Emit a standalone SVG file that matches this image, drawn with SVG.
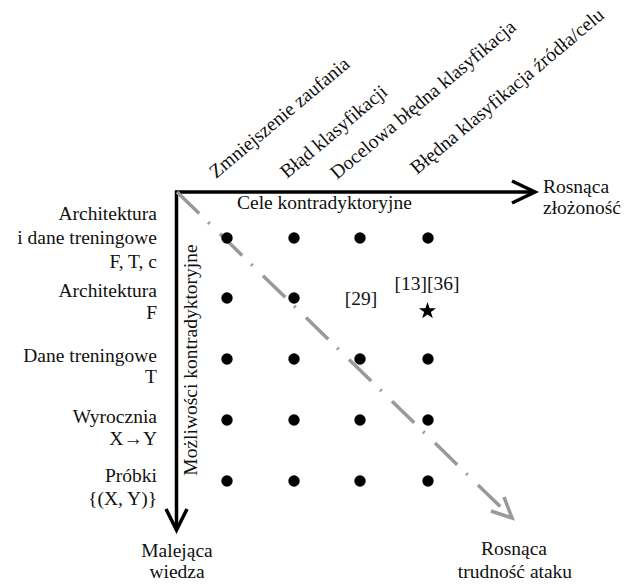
<svg xmlns="http://www.w3.org/2000/svg" width="633" height="584" viewBox="0 0 633 584">
<style>
text{font-family:'Liberation Serif',FreeSerif,'Noto Serif',serif;font-size:19.5px;fill:#111}
.r{text-anchor:end}
.m{text-anchor:middle}
.ax{fill:none;stroke:#000;stroke-width:3.5;stroke-linejoin:miter}
.diag{fill:none;stroke:#999;stroke-width:3.5}
.dot{fill:#000}
</style>
<rect width="633" height="584" fill="#fff"/>
<g id="connectors">
<path class="ax" d="M535,192 H176.5 V530"/>
<polyline class="ax" points="512,181 535,192 512,203"/>
<polyline class="ax" points="166,509 176.5,530 187,509"/>
<path class="diag" d="M177,192 L512,518" stroke-dasharray="31 12.5 2 14.5"/>
<polyline class="diag" points="491,511 512,518 504,497"/>
</g>
<g id="column-labels">
<text transform="translate(216,179) rotate(-40)">Zmniejszenie zaufania</text>
<text transform="translate(287,179) rotate(-40)">Błąd klasyfikacji</text>
<text transform="translate(337,180) rotate(-40)">Docelowa błędna klasyfikacja</text>
<text transform="translate(417,175) rotate(-40)">Błędna klasyfikacja źródła/celu</text>
</g>
<g id="axis-labels">
<text x="237" y="209">Cele kontradyktoryjne</text>
<text x="543" y="193">Rosnąca</text>
<text x="543" y="214">złożoność</text>
<text class="m" transform="translate(197,360) rotate(-90)">Możliwości kontradyktoryjne</text>
<text class="m" x="177" y="557">Malejąca</text>
<text class="m" x="177" y="578">wiedza</text>
<text class="m" x="514" y="555">Rosnąca</text>
<text class="m" x="515" y="578">trudność ataku</text>
</g>
<g id="row-labels">
<text class="r" x="157" y="220">Architektura</text>
<text class="r" x="157" y="244">i dane treningowe</text>
<text class="r" x="157" y="268">F, T, c</text>
<text class="r" x="157" y="297">Architektura</text>
<text class="r" x="157" y="319">F</text>
<text class="r" x="157" y="362">Dane treningowe</text>
<text class="r" x="157" y="383">T</text>
<text class="r" x="157" y="423">Wyrocznia</text>
<text class="r" x="157" y="445">X→Y</text>
<text class="r" x="157" y="482">Próbki</text>
<text class="r" x="157" y="505">{(X, Y)}</text>
</g>
<g id="row1">
<circle class="dot" cx="227" cy="238" r="5.7"/>
<circle class="dot" cx="294" cy="238" r="5.7"/>
<circle class="dot" cx="360" cy="238" r="5.7"/>
<circle class="dot" cx="428" cy="238" r="5.7"/>
</g>
<g id="row2">
<circle class="dot" cx="227" cy="298" r="5.7"/>
<circle class="dot" cx="294" cy="298" r="5.7"/>
<text class="m" x="361" y="305">[29]</text>
<text class="m" x="427" y="290">[13][36]</text>
<polygon fill="#000" points="427.5,302 429.6,308.2 436.1,308.2 430.9,312.1 432.8,318.3 427.5,314.5 422.2,318.3 424.1,312.1 418.9,308.2 425.4,308.2"/>
</g>
<g id="row3">
<circle class="dot" cx="227" cy="359" r="5.7"/>
<circle class="dot" cx="294" cy="359" r="5.7"/>
<circle class="dot" cx="360" cy="359" r="5.7"/>
<circle class="dot" cx="428" cy="359" r="5.7"/>
</g>
<g id="row4">
<circle class="dot" cx="227" cy="420" r="5.7"/>
<circle class="dot" cx="294" cy="420" r="5.7"/>
<circle class="dot" cx="360" cy="420" r="5.7"/>
<circle class="dot" cx="428" cy="420" r="5.7"/>
</g>
<g id="row5">
<circle class="dot" cx="227" cy="481" r="5.7"/>
<circle class="dot" cx="294" cy="481" r="5.7"/>
<circle class="dot" cx="360" cy="481" r="5.7"/>
<circle class="dot" cx="428" cy="481" r="5.7"/>
</g>
</svg>
